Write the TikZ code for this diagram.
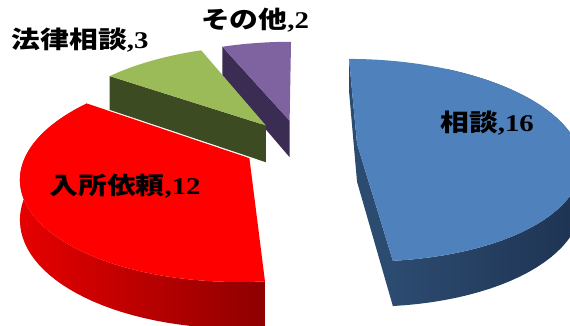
\documentclass[tikz,border=0pt]{standalone}
\usepackage{fontspec}
\newfontfamily\cjk{Noto Sans CJK JP}
\newfontfamily\lat{Liberation Serif}
\usepackage{tikz}

\definecolor{bluetop}{HTML}{4F81BD}
\definecolor{blueside}{HTML}{2C4B70}
\definecolor{bluedark}{HTML}{1E3352}
\definecolor{redtop}{HTML}{FF0000}
\definecolor{redside}{HTML}{E60000}
\definecolor{reddark}{HTML}{8E0000}
\definecolor{greentop}{HTML}{9BBB59}
\definecolor{greendark}{HTML}{3C4B22}
\definecolor{purpletop}{HTML}{7F63A1}
\definecolor{purpledark}{HTML}{3A2C52}

\begin{document}
\begin{tikzpicture}[x=1pt,y=-1pt,
    declare function={
      pw(\cv)=1+0.1625*\cv;
      prx(\cu,\cv)=300+220*\cu/pw(\cv);
      pry(\cu,\cv)=145-99*\cv/pw(\cv);
      rimx(\sa,\ra)=prx(0.26*sin(\sa)+sin(\ra),0.26*cos(\sa)+cos(\ra));
      rimy(\sa,\ra)=pry(0.26*sin(\sa)+sin(\ra),0.26*cos(\sa)+cos(\ra));
      rimd(\sa,\ra)=38/pw(0.26*cos(\sa)+cos(\ra));
      apx(\sa)=prx(0.26*sin(\sa),0.26*cos(\sa));
      apy(\sa)=pry(0.26*sin(\sa),0.26*cos(\sa));
      apd(\sa)=38/pw(0.26*cos(\sa));
    },
    lbl/.style={font=\cjk\bfseries\fontsize{24}{24}\selectfont,xscale=1.2,inner sep=0pt}]
    \useasboundingbox (0,0) rectangle (570,326);

    % その他
    \fill[purpledark] ({apx(349.091)},{apy(349.091)}) -- ({rimx(349.091,338.182)},{rimy(349.091,338.182)})
        -- ({rimx(349.091,338.182)},{rimy(349.091,338.182)+rimd(349.091,338.182)})
        -- ({apx(349.091)},{apy(349.091)+apd(349.091)}) -- cycle;
    \fill[purpletop] ({apx(349.091)},{apy(349.091)})
        -- plot[domain=338.182:360,samples=20] ({rimx(349.091,\x)},{rimy(349.091,\x)}) -- cycle;

    % 法律相談
    \fill[greendark] ({apx(321.818)},{apy(321.818)}) -- ({rimx(321.818,305.455)},{rimy(321.818,305.455)})
        -- ({rimx(321.818,305.455)},{rimy(321.818,305.455)+rimd(321.818,305.455)})
        -- ({apx(321.818)},{apy(321.818)+apd(321.818)}) -- cycle;
    \fill[greentop] ({apx(321.818)},{apy(321.818)})
        -- plot[domain=305.455:338.182,samples=20] ({rimx(321.818,\x)},{rimy(321.818,\x)}) -- cycle;

    % 入所依頼
    \shade[left color=redside,right color=reddark]
        plot[domain=174.545:305.455,samples=50] ({rimx(240,\x)},{rimy(240,\x)})
        -- plot[domain=305.455:174.545,samples=50] ({rimx(240,\x)},{rimy(240,\x)+rimd(240,\x)}) -- cycle;
    \fill[redtop] ({apx(240)},{apy(240)})
        -- plot[domain=174.545:305.455,samples=50] ({rimx(240,\x)},{rimy(240,\x)}) -- cycle;

    % 相談
    \fill[blueside] ({apx(87.273)},{apy(87.273)}) -- ({rimx(87.273,0)},{rimy(87.273,0)})
        -- ({rimx(87.273,0)},{rimy(87.273,0)+rimd(87.273,0)})
        -- ({apx(87.273)},{apy(87.273)+apd(87.273)}) -- cycle;
    \fill[blueside] ({apx(87.273)},{apy(87.273)}) -- ({rimx(87.273,174.545)},{rimy(87.273,174.545)})
        -- ({rimx(87.273,174.545)},{rimy(87.273,174.545)+rimd(87.273,174.545)})
        -- ({apx(87.273)},{apy(87.273)+apd(87.273)}) -- cycle;
    \shade[left color=blueside,right color=bluedark]
        plot[domain=30:174.545,samples=50] ({rimx(87.273,\x)},{rimy(87.273,\x)})
        -- plot[domain=174.545:30,samples=50] ({rimx(87.273,\x)},{rimy(87.273,\x)+rimd(87.273,\x)}) -- cycle;
    \fill[bluetop] ({apx(87.273)},{apy(87.273)})
        -- plot[domain=0:174.545,samples=60] ({rimx(87.273,\x)},{rimy(87.273,\x)}) -- cycle;

    \node[lbl] (other) at (255,20) {その他{\lat ,2}};
    \node[lbl] (law) at (80,40) {法律相談{\lat ,3}};
    \node[lbl] (consult) at (487,123) {相談{\lat ,16}};
    \node[lbl] (admit) at (125,186) {入所依頼{\lat ,12}};
\end{tikzpicture}
\end{document}
